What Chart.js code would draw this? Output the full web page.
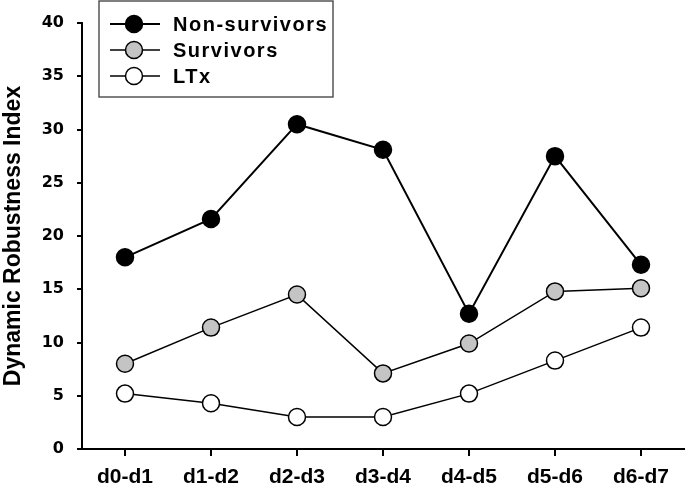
<!DOCTYPE html>
<html>
<head>
<meta charset="utf-8">
<script src="https://cdn.jsdelivr.net/npm/chart.js@4"></script>
<style>
html,body{margin:0;padding:0;background:#fff;}
canvas{display:block;}
</style>
</head>
<body>
<canvas id="c" width="694" height="486"></canvas>
<script>
const categories = ["d0-d1","d1-d2","d2-d3","d3-d4","d4-d5","d5-d6","d6-d7"];
const nonSurvivors = [18.0, 21.6, 30.5, 28.1, 12.7, 27.5, 17.3];
const survivors = [8.0, 11.4, 14.5, 7.1, 9.9, 14.8, 15.1];
const ltx = [5.2, 4.3, 3.0, 3.0, 5.2, 8.3, 11.4];
const yTicks = [0, 5, 10, 15, 20, 25, 30, 35, 40];

const legendPlugin = {
  id: 'boxLegend',
  afterDraw(chart) {
    const ctx = chart.ctx;
    ctx.save();
    ctx.fillStyle = '#fff';
    ctx.fillRect(99, 1, 234, 96);
    ctx.strokeStyle = '#555';
    ctx.lineWidth = 1.5;
    ctx.strokeRect(99, 1, 234, 96);
    chart.data.datasets.forEach((ds, i) => {
      const y = 24 + i * 26;
      ctx.beginPath();
      ctx.moveTo(110, y); ctx.lineTo(160, y);
      ctx.strokeStyle = '#000'; ctx.lineWidth = ds.borderWidth;
      ctx.stroke();
      ctx.beginPath();
      ctx.arc(134, y, 8.5, 0, Math.PI * 2);
      ctx.fillStyle = ds.pointBackgroundColor; ctx.fill();
      ctx.lineWidth = 1.5; ctx.strokeStyle = '#000'; ctx.stroke();
      ctx.fillStyle = '#000';
      ctx.font = 'bold 20px "Liberation Sans", Arial, sans-serif';
      try { ctx.letterSpacing = '1.5px'; } catch (e) {}
      ctx.textBaseline = 'middle';
      ctx.textAlign = 'left';
      ctx.fillText(ds.label, 173, y + 1);
    });
    ctx.restore();
  }
};

const bg = {
  id: 'bg',
  beforeDraw(chart) {
    const ctx = chart.ctx;
    ctx.save(); ctx.fillStyle = '#fff'; ctx.fillRect(0, 0, chart.width, chart.height); ctx.restore();
  }
};

function mk(label, data, fill, bw) {
  return {
    label, data,
    borderColor: '#000', borderWidth: bw,
    pointBackgroundColor: fill, pointBorderColor: '#000',
    pointBorderWidth: 1.5, pointRadius: 8.5, pointHoverRadius: 8.5,
    tension: 0, fill: false
  };
}

new Chart(document.getElementById('c'), {
  type: 'line',
  data: {
    labels: categories,
    datasets: [
      mk('Non-survivors', nonSurvivors, '#000000', 2),
      mk('Survivors', survivors, '#c4c4c4', 1.5),
      mk('LTx', ltx, '#ffffff', 1.5)
    ]
  },
  options: {
    responsive: false,
    animation: false,
    layout: { padding: { top: 23, right: 1, left: 0, bottom: 0 } },
    plugins: { legend: { display: false }, tooltip: { enabled: false } },
    scales: {
      x: {
        offset: true,
        grid: { offset: false, drawOnChartArea: false, tickLength: 7, color: '#000', lineWidth: 2 },
        border: { color: '#000', width: 2 },
        ticks: { color: '#000', padding: 9, font: { family: '"Liberation Sans", Arial', size: 21, weight: 'bold' }, maxRotation: 0 },
        afterFit(s) { s.height = 37; }
      },
      y: {
        min: 0, max: 40,
        afterBuildTicks(s) { s.ticks = yTicks.map(v => ({ value: v })); },
        grid: { drawOnChartArea: false, tickLength: 5, color: '#000', lineWidth: 2 },
        border: { color: '#000', width: 2 },
        ticks: { color: '#000', padding: 13, font: { family: '"DejaVu Sans"', size: 16, weight: 'bold' } },
        title: { display: true, text: 'Dynamic Robustness Index', color: '#000', padding: { top: 0, bottom: 0 },
          font: { family: '"Liberation Sans", Arial', size: 23, weight: 'bold' } },
        afterFit(s) { s.width = 82; }
      }
    }
  },
  plugins: [bg, legendPlugin]
});
</script>
</body>
</html>
